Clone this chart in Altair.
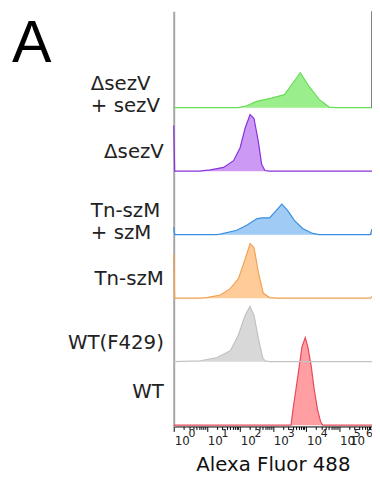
import altair as alt
import pandas as pd

# ---- data ----
samples = ["WT", "WT(F429)", "Tn-szM", "Tn-szM + szM", "ΔsezV", "ΔsezV + sezV"]
fill_colors = ["#ff9fa3", "#d8d8d8", "#ffcc99", "#9fcbf5", "#cc99f5", "#9bee8c"]
line_colors = ["#e8485a", "#c2c2c2", "#f0a050", "#3a8ee0", "#8833dd", "#66dd55"]

wt_fl = [1, 3548, 3981, 5012, 6310, 7586, 9550, 11482, 14454, 17783, 22387, 28184, 32359, 1000000]
wt_count = [0, 0, 21.5, 57, 93, 123, 138, 123, 93, 57, 25, 4.6, 0, 0]

f429_fl = [1, 6.5, 20.4, 51.3, 91.2, 145, 204, 269, 363, 490, 575, 794, 1000000]
f429_count = [0, 1.5, 6.6, 17, 42.6, 73, 87, 73, 37, 6.6, 1.5, 0, 0]

tn_fl = [1, 1.07, 5.9, 10.2, 25.7, 51.3, 91.2, 145, 204, 269, 363, 513, 794, 1259, 891251, 1000000]
tn_count = [69, 0, 0, 1, 5, 15, 31, 61.5, 86, 79.5, 41, 7.7, 1, 0, 0, 2.5]

tnc_fl = [1, 1.07, 20, 25.7, 81.3, 162, 324, 457, 794, 1259, 1862, 2818, 4467, 7943, 15849, 25119, 891251, 1000000]
tnc_count = [12, 0, 0, 1, 7, 15, 25, 26.5, 26.5, 38, 48, 38, 22.5, 9.7, 2, 0, 0, 9]

dsez_fl = [1, 1.07, 5.9, 12.9, 32.4, 64.6, 102, 145, 204, 269, 363, 457, 575, 794, 1000000]
dsez_count = [72, 0, 0, 2, 6, 16.5, 37, 68, 89, 83, 47, 11, 1, 0, 0]

dsezc_fl = [1, 91, 162, 324, 912, 2239, 3981, 6761, 12589, 25119, 50119, 79433, 1000000]
dsezc_count = [0, 0, 3, 10, 15, 20.5, 38.5, 55, 33, 13, 1, 0, 0]

tick_values = [1, 10, 100, 1000, 10000, 100000, 1000000]
tick_exponents = ["0", "1", "2", "3", "4", "5", "6"]
minor_ticks = [m * t for t in tick_values[:-1] for m in range(2, 10)]

row_labels_single = ["ΔsezV", "Tn-szM", "WT(F429)"]
row_labels_multi = ["ΔsezV\n+ sezV", "Tn-szM\n+ szM"]

# ---- tables ----
series = [
    (wt_fl, wt_count), (f429_fl, f429_count), (tn_fl, tn_count),
    (tnc_fl, tnc_count), (dsez_fl, dsez_count), (dsezc_fl, dsezc_count),
]
rows = []
for i, (fl, cnt) in enumerate(series):
    for f, c in zip(fl, cnt):
        rows.append({"sample": samples[i], "row": i, "fl": f, "count": c})
df = pd.DataFrame(rows)

labels_single = pd.DataFrame({"label": row_labels_single,
                              "row": [samples.index(s) for s in row_labels_single]})
labels_multi = pd.DataFrame({"label": row_labels_multi,
                             "row": [samples.index(s.replace("\n", " ")) for s in row_labels_multi]})
labels_wt = pd.DataFrame({"label": ["WT"], "row": [0]})
ticks_df = pd.DataFrame({"fl": tick_values, "exp": tick_exponents})

W, H = 201, 421
FONT = "DejaVu Sans"

x_scale = alt.Scale(type="log", domain=[1, 1000000], nice=False)
y_scale = alt.Scale(domain=[-2, 652], nice=False, zero=False)

x_enc = alt.X(
    "fl:Q", scale=x_scale,
    axis=alt.Axis(
        values=sorted(tick_values + minor_ticks), labels=False, grid=False,
        tickSize={"condition": {"test": "indexof([1,10,100,1000,10000,100000,1000000], datum.value) >= 0", "value": 5}, "value": 3},
        tickColor="#000", domainColor="#000", title="Alexa Fluor 488",
        titleFont=FONT, titleFontSize=20, titleFontWeight="normal", titleColor="#111",
        titlePadding=23,
    ),
)
y_enc = alt.Y(
    "y:Q", scale=y_scale, stack=None,
    axis=alt.Axis(labels=False, ticks=False, grid=False, title=None,
                  domainColor="#a6a6a6", domainWidth=2),
)

base = alt.Chart(df).transform_calculate(
    y="datum.row * 100 + datum.count", base="datum.row * 100"
)

areas = base.mark_area(opacity=1).encode(
    x=x_enc, y=y_enc, y2="base:Q",
    fill=alt.Fill("sample:N", scale=alt.Scale(domain=samples, range=fill_colors), legend=None),
    detail="sample:N",
)
lines = base.mark_line(strokeWidth=1.2).encode(
    x=alt.X("fl:Q", scale=x_scale),
    y=alt.Y("y:Q", scale=y_scale),
    stroke=alt.Stroke("sample:N", scale=alt.Scale(domain=samples, range=line_colors), legend=None),
    detail="sample:N",
)

border = alt.Chart(labels_wt).mark_rule(color="#555", strokeWidth=1.5).encode(
    x=alt.value(W), y=alt.datum(500, scale=y_scale), y2=alt.datum(652)
)

txt_single = alt.Chart(labels_single).transform_calculate(
    ly="datum.row * 100"
).mark_text(align="right", baseline="middle", dx=-10, dy=-19, font=FONT, fontSize=20, color="#222").encode(
    x=alt.value(0), y=alt.Y("ly:Q", scale=y_scale), text="label:N"
)
txt_wt = alt.Chart(labels_wt).transform_calculate(
    ly="datum.row * 100"
).mark_text(align="right", baseline="middle", dx=-10, dy=-34, font=FONT, fontSize=20, color="#222").encode(
    x=alt.value(0), y=alt.Y("ly:Q", scale=y_scale), text="label:N"
)
txt_multi = alt.Chart(labels_multi).transform_calculate(
    ly="datum.row * 100"
).mark_text(align="left", baseline="middle", dx=-84, dy=-24, lineBreak="\n", lineHeight=22,
            font=FONT, fontSize=20, color="#222").encode(
    x=alt.value(0), y=alt.Y("ly:Q", scale=y_scale), text="label:N"
)

letter = alt.Chart(labels_wt).mark_text(
    text="A", align="left", baseline="alphabetic", font="Liberation Sans", fontSize=60, color="#000"
).encode(x=alt.value(-164), y=alt.value(52))

tick_base = alt.Chart(ticks_df).transform_filter("datum.fl < 1000000")
base10 = tick_base.mark_text(text="10", align="left", baseline="middle", dx=1, font=FONT, fontSize=12, color="#222").encode(
    x=alt.X("fl:Q", scale=x_scale), y=alt.value(436)
)
exp10 = tick_base.mark_text(align="left", baseline="middle", dx=15, font=FONT, fontSize=11, color="#222").encode(
    x=alt.X("fl:Q", scale=x_scale), y=alt.value(429), text="exp:N"
)
tick_last = alt.Chart(ticks_df).transform_filter("datum.fl >= 1000000")
base10_last = tick_last.mark_text(text="10", align="right", baseline="middle", dx=-7, font=FONT, fontSize=12, color="#222").encode(
    x=alt.X("fl:Q", scale=x_scale), y=alt.value(436)
)
exp10_last = tick_last.mark_text(align="right", baseline="middle", dx=1, font=FONT, fontSize=11, color="#222").encode(
    x=alt.X("fl:Q", scale=x_scale), y=alt.value(429), text="exp:N"
)

chart = alt.layer(
    areas, lines, border, txt_single, txt_wt, txt_multi, letter,
    base10, exp10, base10_last, exp10_last,
).resolve_scale(fill="independent", stroke="independent").properties(
    width=W, height=H,
    padding={"left": 168, "top": 0, "right": 0, "bottom": 47},
    autosize=alt.AutoSizeParams(type="none"),
).configure_view(strokeWidth=0)

chart.save("out.html", embed_options={"renderer": "svg", "actions": False})
